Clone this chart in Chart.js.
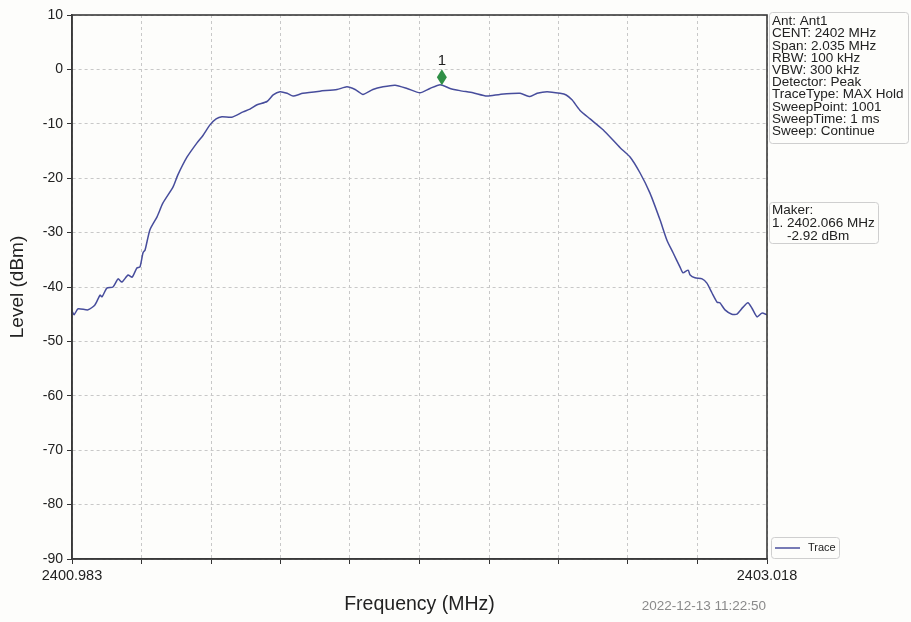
<!DOCTYPE html>
<html>
<head>
<meta charset="utf-8">
<script src="https://cdn.jsdelivr.net/npm/chart.js@4.4.0/dist/chart.umd.min.js"></script>
<style>
  html, body { margin: 0; padding: 0; background: #fdfdfb; }
  #wrap { width: 911px; height: 622px; position: relative; }
</style>
</head>
<body>
<div id="wrap"><canvas id="myChart" width="911" height="622"></canvas></div>
<script>
// trace (MHz / dBm)
const freqs = [
  2400.983, 2400.989, 2401.001, 2401.030, 2401.050, 2401.065, 2401.071, 2401.085, 2401.103, 2401.118,
  2401.129, 2401.147, 2401.159, 2401.173, 2401.182, 2401.191, 2401.197, 2401.211, 2401.232, 2401.249,
  2401.279, 2401.293, 2401.320, 2401.349, 2401.367, 2401.387, 2401.405, 2401.422, 2401.451, 2401.484,
  2401.504, 2401.525, 2401.554, 2401.572, 2401.592, 2401.613, 2401.630, 2401.659, 2401.709, 2401.759,
  2401.788, 2401.812, 2401.835, 2401.864, 2401.894, 2401.929, 2401.964, 2402.002, 2402.031, 2402.061,
  2402.090, 2402.119, 2402.157, 2402.198, 2402.236, 2402.295, 2402.324, 2402.345, 2402.374, 2402.412,
  2402.430, 2402.447, 2402.470, 2402.500, 2402.538, 2402.588, 2402.617, 2402.646, 2402.675, 2402.705,
  2402.725, 2402.743, 2402.763, 2402.772, 2402.787, 2402.793, 2402.807, 2402.828, 2402.842, 2402.857,
  2402.872, 2402.880, 2402.895, 2402.915, 2402.930, 2402.948, 2402.962, 2402.974, 2402.989, 2403.003,
  2403.018
];
const levels = [
  -44.4, -45.1, -44.0, -44.2, -43.3, -41.5, -41.8, -40.2, -40.0, -38.5,
  -39.1, -37.8, -38.2, -36.5, -36.3, -33.7, -33.2, -29.5, -27.1, -24.6,
  -21.6, -19.4, -16.1, -13.5, -12.1, -10.2, -9.1, -8.7, -8.8, -7.8,
  -7.3, -6.5, -5.9, -4.7, -4.1, -4.4, -4.9, -4.4, -4.0, -3.7,
  -3.2, -3.7, -4.6, -3.7, -3.2, -2.9, -3.5, -4.3, -3.5, -2.8,
  -3.5, -3.9, -4.3, -4.9, -4.6, -4.4, -5.0, -4.4, -4.1, -4.4,
  -4.7, -5.6, -7.5, -9.1, -11.1, -14.4, -16.1, -19.0, -22.7, -27.7,
  -31.4, -33.7, -36.3, -37.4, -36.9, -37.8, -38.3, -38.5, -39.3, -41.1,
  -42.8, -42.9, -44.2, -45.0, -45.0, -43.7, -42.9, -43.9, -45.5, -44.8,
  -45.1
];

const markerFreq = [2402.066];
const markerLevel = [-2.92];
const markerNames = ['1'];

const freqStart = 2400.983;
const freqStop = 2403.018;
const levelMin = -90;
const levelMax = 10;
const xEdgeLabels = ['2400.983', '2403.018'];

const infoLines = [
  'Ant: Ant1',
  'CENT: 2402 MHz',
  'Span: 2.035 MHz',
  'RBW: 100 kHz',
  'VBW: 300 kHz',
  'Detector: Peak',
  'TraceType: MAX Hold',
  'SweepPoint: 1001',
  'SweepTime: 1 ms',
  'Sweep: Continue'
];
const makerLines = ['Maker:', '1. 2402.066 MHz', '    -2.92 dBm'];
const stampText = '2022-12-13 11:22:50';

const FONT = "'Liberation Sans', Arial, sans-serif";

function roundBox(ctx, x, y, w, h, r) {
  ctx.beginPath();
  ctx.moveTo(x + r, y);
  ctx.lineTo(x + w - r, y);
  ctx.quadraticCurveTo(x + w, y, x + w, y + r);
  ctx.lineTo(x + w, y + h - r);
  ctx.quadraticCurveTo(x + w, y + h, x + w - r, y + h);
  ctx.lineTo(x + r, y + h);
  ctx.quadraticCurveTo(x, y + h, x, y + h - r);
  ctx.lineTo(x, y + r);
  ctx.quadraticCurveTo(x, y, x + r, y);
  ctx.closePath();
}

const extras = {
  id: 'extras',
  beforeDraw(chart) {
    const ctx = chart.ctx;
    ctx.save();
    ctx.fillStyle = '#fdfdfb';
    ctx.fillRect(0, 0, chart.width, chart.height);
    ctx.restore();
  },
  afterDraw(chart) {
    const ctx = chart.ctx;
    const a = chart.chartArea;
    const xs = chart.scales.x, ys = chart.scales.y;
    ctx.save();

    // frame
    ctx.strokeStyle = '#3a3a3a';
    ctx.lineWidth = 1.6;
    ctx.strokeRect(a.left, a.top, a.right - a.left, a.bottom - a.top);

    // marker
    markerFreq.forEach((f, i) => {
      const px = xs.getPixelForValue(f);
      const py = ys.getPixelForValue(markerLevel[i]) - 8;
      ctx.fillStyle = '#2f8f46';
      ctx.beginPath();
      ctx.moveTo(px, py - 8);
      ctx.lineTo(px + 5, py);
      ctx.lineTo(px, py + 8);
      ctx.lineTo(px - 5, py);
      ctx.closePath();
      ctx.fill();
      ctx.fillStyle = '#222';
      ctx.font = '15px ' + FONT;
      ctx.textAlign = 'center';
      ctx.textBaseline = 'middle';
      ctx.fillText(markerNames[i], px, py - 16);
    });

    // info box
    ctx.strokeStyle = '#cfcfcf';
    ctx.lineWidth = 1;
    ctx.fillStyle = '#fdfdfb';
    roundBox(ctx, 769.5, 12.5, 139, 131, 3);
    ctx.fill();
    ctx.stroke();
    ctx.fillStyle = '#222';
    ctx.font = '13.5px ' + FONT;
    ctx.textAlign = 'left';
    ctx.textBaseline = 'middle';
    infoLines.forEach((t, i) => ctx.fillText(t, 772, 21.5 + i * 12.2));

    // maker box
    roundBox(ctx, 769.5, 202.5, 109, 41, 3);
    ctx.stroke();
    makerLines.forEach((t, i) => ctx.fillText(t, 772, 210 + i * 13));

    // legend
    roundBox(ctx, 771.5, 537.5, 68, 21, 3);
    ctx.stroke();
    ctx.strokeStyle = '#4a4f9e';
    ctx.lineWidth = 1.5;
    ctx.beginPath();
    ctx.moveTo(775, 548);
    ctx.lineTo(800, 548);
    ctx.stroke();
    ctx.font = '11px ' + FONT;
    ctx.fillText('Trace', 808, 548);

    // time stamp
    ctx.fillStyle = '#8a8a8a';
    ctx.font = '13.5px ' + FONT;
    ctx.textAlign = 'right';
    ctx.fillText(stampText, 766, 606);
    ctx.restore();
  }
};

const ctx = document.getElementById('myChart');
const chart = new Chart(ctx, {
  type: 'line',
  data: {
    datasets: [{
      label: 'Trace',
      data: freqs.map((f, i) => ({ x: f, y: levels[i] })),
      borderColor: '#474d9c',
      borderWidth: 1.5,
      pointRadius: 0,
      tension: 0.2,
      fill: false
    }]
  },
  options: {
    responsive: false,
    animation: false,
    layout: { padding: { left: 0, right: 144, top: 15, bottom: 0 } },
    plugins: { legend: { display: false }, tooltip: { enabled: false } },
    scales: {
      x: {
        type: 'linear',
        min: freqStart,
        max: freqStop,
        afterBuildTicks: (scale) => {
          const step = (freqStop - freqStart) / 10;
          const t = [];
          for (let i = 0; i <= 10; i++) t.push({ value: freqStart + i * step });
          scale.ticks = t;
        },
        afterFit: (scale) => { scale.height = 63; },
        ticks: {
          autoSkip: false,
          maxRotation: 0,
          color: '#222',
          font: { family: FONT, size: 14.5 },
          padding: 3,
          callback: (v, i, arr) => i === 0 ? xEdgeLabels[0] : (i === arr.length - 1 ? xEdgeLabels[1] : '')
        },
        grid: {
          color: '#c8c8c8',
          lineWidth: 1,
          tickColor: '#333',
          tickLength: 5
        },
        border: { display: true, color: '#3a3a3a', width: 1.6, dash: [3, 3] },
        title: {
          display: true,
          text: 'Frequency (MHz)',
          color: '#222',
          font: { family: FONT, size: 19.5 },
          padding: { top: 0, bottom: 6 }
        }
      },
      y: {
        min: levelMin,
        max: levelMax,
        afterFit: (scale) => { scale.width = 72; },
        ticks: {
          stepSize: 10,
          color: '#222',
          font: { family: FONT, size: 14 },
          padding: 4
        },
        grid: {
          color: '#c8c8c8',
          lineWidth: 1,
          tickColor: '#333',
          tickLength: 5
        },
        border: { display: true, color: '#3a3a3a', width: 1.6, dash: [3, 3] },
        title: {
          display: true,
          text: 'Level (dBm)',
          color: '#222',
          font: { family: FONT, size: 19 },
          padding: { top: 6, bottom: 0 }
        }
      }
    }
  },
  plugins: [extras]
});
</script>
</body>
</html>
